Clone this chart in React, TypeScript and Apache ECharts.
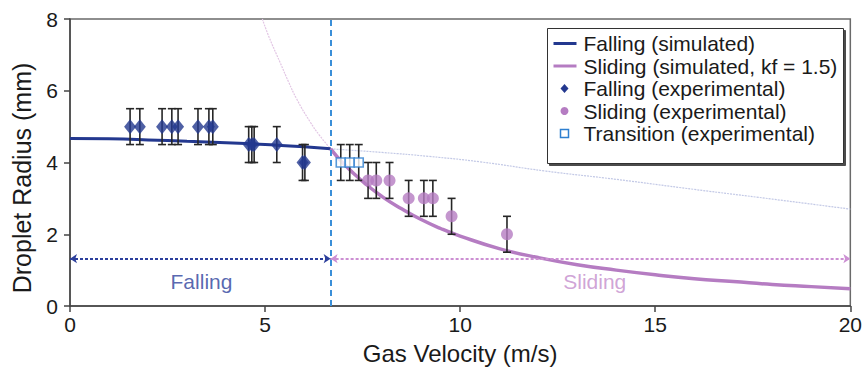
import React, { useEffect, useRef } from "react";
import * as echarts from "echarts";

// ---- data ----
const fallingSimX = [0, 1, 2, 3, 4, 5, 6, 6.68];
const fallingSimY = [4.67, 4.66, 4.63, 4.59, 4.55, 4.5, 4.44, 4.38];

const slidingSimX = [6.68, 7, 7.5, 8, 8.5, 9, 9.5, 10, 11, 12, 13, 14, 15, 16, 17, 18, 19, 20];
const slidingSimY = [4.38, 3.98, 3.47, 3.05, 2.71, 2.41, 2.16, 1.95, 1.6, 1.35, 1.15, 1.0, 0.87, 0.76, 0.68, 0.6, 0.54, 0.48];

// faint extrapolations
const slidingExtX = [4.93, 5.1, 5.38, 5.6, 5.81, 6.15, 6.4, 6.68];
const slidingExtY = [8.0, 7.5, 6.8, 6.25, 5.77, 5.14, 4.75, 4.38];
const fallingExtX = [6.68, 8, 9.2, 10.5, 12.2, 14, 16, 18, 20];
const fallingExtY = [4.38, 4.28, 4.17, 4.02, 3.76, 3.53, 3.25, 2.98, 2.7];

const fallingExpX = [1.54, 1.79, 2.36, 2.61, 2.77, 3.28, 3.56, 3.66, 4.58, 4.66, 4.72, 5.3, 5.96, 6.02];
const fallingExpY = [5, 5, 5, 5, 5, 5, 5, 5, 4.5, 4.5, 4.5, 4.5, 4, 4];
const fallingExpErr = [0.5, 0.5, 0.5, 0.5, 0.5, 0.5, 0.5, 0.5, 0.5, 0.5, 0.5, 0.5, 0.5, 0.5];

const slidingExpX = [7.64, 7.85, 8.19, 8.68, 9.07, 9.3, 9.78, 11.2];
const slidingExpY = [3.5, 3.5, 3.5, 3.0, 3.0, 3.0, 2.5, 2.0];
const slidingExpErr = [0.5, 0.5, 0.5, 0.5, 0.5, 0.5, 0.5, 0.5];

const transX = [6.94, 7.17, 7.4];
const transY = [4, 4, 4];
const transErr = [0.5, 0.5, 0.5];

const transitionVelocity = 6.68;
const regionArrowY = 1.32;
const regionNames = ["Falling", "Sliding"];
const regionLabelX = [3.37, 13.45];
const regionLabelY = [0.69, 0.69];

const xAxisTitle = "Gas Velocity (m/s)";
const yAxisTitle = "Droplet Radius (mm)";

const legendNames = [
  "Falling (simulated)",
  "Sliding (simulated, kf = 1.5)",
  "Falling (experimental)",
  "Sliding (experimental)",
  "Transition (experimental)",
];

const FONT = "'Liberation Sans', Arial, Helvetica, sans-serif";
const BLUE = "#23388f";
const PINK = "#b57cc2";
const TRANS = "#2e7fd0";

const zip = (xs: number[], ys: number[]) => xs.map((x, i) => [x, ys[i]]);
const zip3 = (xs: number[], ys: number[], es: number[]) => xs.map((x, i) => [x, ys[i], es[i]]);

export default function App() {
  const ref = useRef<HTMLDivElement>(null);
  useEffect(() => {
    document.body.style.margin = "0";
    if (!ref.current) return;
    const chart = echarts.init(ref.current, null, { renderer: "svg" });

    const errData = [
      ...zip3(fallingExpX, fallingExpY, fallingExpErr),
      ...zip3(transX, transY, transErr),
      ...zip3(slidingExpX, slidingExpY, slidingExpErr),
    ];

    const rowY = [15, 37.5, 60, 82.5, 105];
    const textEls = legendNames.map((n, i) => ({
      type: "text",
      x: 36,
      y: rowY[i],
      style: { text: n, fill: "#1a1a1a", font: `21px ${FONT}`, verticalAlign: "middle", textAlign: "left" },
    }));

    const option: any = {
      animation: false,
      backgroundColor: "#fff",
      grid: {
        left: 70,
        right: 12,
        top: 19,
        bottom: 60,
        show: true,
        borderColor: "#6a6a6a",
        borderWidth: 1.5,
        backgroundColor: "transparent",
      },
      xAxis: {
        type: "value",
        min: 0,
        max: 20,
        interval: 5,
        name: xAxisTitle,
        nameLocation: "middle",
        nameGap: 35,
        nameTextStyle: { fontSize: 24, color: "#1a1a1a", fontFamily: FONT },
        axisLine: { show: true, lineStyle: { color: "#444", width: 1.5 } },
        axisTick: { show: true, length: 6, lineStyle: { color: "#444", width: 1.5 } },
        axisLabel: { fontSize: 21, color: "#1a1a1a", fontFamily: FONT, margin: 8 },
        splitLine: { show: false },
      },
      yAxis: {
        type: "value",
        min: 0,
        max: 8,
        interval: 2,
        axisLine: { show: true, lineStyle: { color: "#444", width: 1.5 } },
        axisTick: { show: true, length: 6, lineStyle: { color: "#444", width: 1.5 } },
        axisLabel: { fontSize: 21, color: "#1a1a1a", fontFamily: FONT, margin: 12 },
        splitLine: { show: false },
      },
      series: [
        {
          name: "sliding-extrapolation",
          type: "line",
          data: zip(slidingExtX, slidingExtY),
          smooth: true,
          symbol: "none",
          silent: true,
          lineStyle: { color: "#e2c6e4", width: 1.2, type: [2, 1] },
          z: 1,
        },
        {
          name: "falling-extrapolation",
          type: "line",
          data: zip(fallingExtX, fallingExtY),
          smooth: true,
          symbol: "none",
          silent: true,
          lineStyle: { color: "#c3c9e6", width: 1.2, type: [2, 1] },
          z: 1,
        },
        {
          name: legendNames[0],
          type: "line",
          data: zip(fallingSimX, fallingSimY),
          smooth: true,
          symbol: "none",
          lineStyle: { color: BLUE, width: 3 },
          z: 3,
          markLine: {
            silent: true,
            symbol: ["arrow", "arrow"],
            symbolSize: 7,
            label: { show: false },
            lineStyle: { color: "#2c3f9c", width: 2, type: [3, 2] },
            data: [[{ coord: [0, regionArrowY] }, { coord: [transitionVelocity, regionArrowY] }]],
          },
        },
        {
          name: legendNames[1],
          type: "line",
          data: zip(slidingSimX, slidingSimY),
          smooth: true,
          symbol: "none",
          lineStyle: { color: PINK, width: 3.5 },
          z: 3,
          markLine: {
            silent: true,
            symbol: ["arrow", "arrow"],
            symbolSize: 7,
            label: { show: false },
            lineStyle: { color: "#cc8fd3", width: 2, type: [3, 2] },
            data: [[{ coord: [transitionVelocity, regionArrowY] }, { coord: [20, regionArrowY] }]],
          },
        },
        {
          name: "transition-line",
          type: "line",
          data: [],
          symbol: "none",
          markLine: {
            silent: true,
            symbol: "none",
            label: { show: false },
            lineStyle: { color: "#3b8fd8", width: 2, type: [6, 4] },
            data: [{ xAxis: transitionVelocity }],
          },
          z: 4,
        },
        {
          name: "error-bars",
          type: "custom",
          coordinateSystem: "cartesian2d",
          encode: { x: 0, y: 1 },
          data: errData,
          silent: true,
          z: 5,
          renderItem: (params: any, api: any) => {
            const x = api.value(0);
            const y = api.value(1);
            const e = api.value(2);
            const p1 = api.coord([x, y + e]);
            const p2 = api.coord([x, y - e]);
            const w = 4;
            const style = { stroke: "#262626", lineWidth: 1.6 };
            return {
              type: "group",
              children: [
                { type: "line", shape: { x1: p1[0], y1: p1[1], x2: p2[0], y2: p2[1] }, style },
                { type: "line", shape: { x1: p1[0] - w, y1: p1[1], x2: p1[0] + w, y2: p1[1] }, style },
                { type: "line", shape: { x1: p2[0] - w, y1: p2[1], x2: p2[0] + w, y2: p2[1] }, style },
              ],
            };
          },
        },
        {
          name: legendNames[2],
          type: "scatter",
          data: zip(fallingExpX, fallingExpY),
          symbol: "diamond",
          symbolSize: [12, 15],
          itemStyle: { color: BLUE },
          z: 6,
        },
        {
          name: legendNames[3],
          type: "scatter",
          data: zip(slidingExpX, slidingExpY),
          symbol: "circle",
          symbolSize: 12,
          itemStyle: { color: PINK },
          z: 6,
        },
        {
          name: legendNames[4],
          type: "scatter",
          data: zip(transX, transY),
          symbol: "rect",
          symbolSize: 9,
          itemStyle: { color: "#fff", borderColor: TRANS, borderWidth: 1.6 },
          z: 6,
        },
        ...regionNames.map((n, i) => ({
          name: "region-" + n,
          type: "scatter",
          data: [[regionLabelX[i], regionLabelY[i]]],
          symbolSize: 0,
          silent: true,
          label: {
            show: true,
            position: "inside",
            formatter: n,
            fontSize: 21,
            fontFamily: FONT,
            color: i === 0 ? "#2c3f9c" : "#c48ccc",
          },
          z: 6,
        })),
      ],
      graphic: [
        {
          type: "text",
          x: 22,
          y: 178,
          rotation: Math.PI / 2,
          style: {
            text: yAxisTitle,
            fill: "#1a1a1a",
            font: `25px ${FONT}`,
            textAlign: "center",
            verticalAlign: "middle",
          },
        },
        {
          type: "group",
          left: 547,
          top: 28,
          z: 100,
          children: [
            {
              type: "rect",
              shape: { x: 0, y: 0, width: 296, height: 135 },
              style: {
                fill: "#fff",
                stroke: "#333",
                lineWidth: 1,
                shadowColor: "rgba(0,0,0,0.7)",
                shadowOffsetX: 2,
                shadowOffsetY: 2,
                shadowBlur: 1,
              },
            },
            { type: "line", shape: { x1: 6, y1: rowY[0], x2: 29, y2: rowY[0] }, style: { stroke: BLUE, lineWidth: 3 } },
            { type: "line", shape: { x1: 6, y1: rowY[1], x2: 29, y2: rowY[1] }, style: { stroke: PINK, lineWidth: 3 } },
            {
              type: "polygon",
              shape: { points: [[17, rowY[2] - 4.5], [21, rowY[2]], [17, rowY[2] + 4.5], [13, rowY[2]]] },
              style: { fill: BLUE },
            },
            { type: "circle", shape: { cx: 17, cy: rowY[3], r: 4 }, style: { fill: PINK } },
            {
              type: "rect",
              shape: { x: 13, y: rowY[4] - 4, width: 8, height: 8 },
              style: { fill: "#fff", stroke: TRANS, lineWidth: 1.5 },
            },
            ...textEls,
          ],
        },
      ],
    };

    chart.setOption(option);
    return () => chart.dispose();
  }, []);

  return <div ref={ref} style={{ width: 865, height: 370 }} />;
}
